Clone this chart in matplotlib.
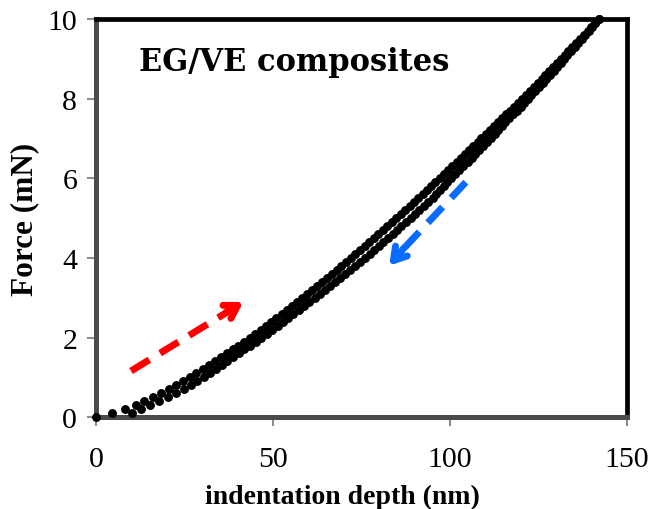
import numpy as np
import matplotlib
matplotlib.use("Agg")
import matplotlib.pyplot as plt

# loading branch (nm, mN)
load_depth = [0.0, 4.6, 8.2, 11.2, 13.7, 16.2, 18.3, 20.7, 22.7, 24.6,
              26.5, 28.3, 30.1, 31.9, 33.6, 35.3, 37.0, 38.6, 40.2, 41.8,
              43.4, 45.0, 46.5, 48.0, 49.5, 51.0, 52.5, 54.0, 55.4, 56.8,
              58.3, 59.7, 61.1, 62.5, 63.9, 65.2, 66.6, 68.0, 69.3, 70.7,
              72.0, 73.3, 74.6, 75.9, 77.2, 78.5, 79.8, 81.1, 82.3, 83.6,
              84.9, 86.1, 87.4, 88.6, 89.8, 91.1, 92.3, 93.5, 94.7, 95.9,
              97.1, 98.3, 99.5, 100.7, 101.9, 103.1, 104.3, 105.4, 106.6, 107.8,
              108.9, 110.1, 111.2, 112.4, 113.5, 114.7, 115.8, 116.9, 118.1, 119.2,
              120.3, 121.4, 122.5, 123.7, 124.8, 125.9, 127.0, 128.1, 129.2, 130.3,
              131.3, 132.4, 133.5, 134.6, 135.7, 136.8, 137.8, 138.9, 140.0, 141.0,
              142.1]
load_force = [0.0, 0.1, 0.2, 0.3, 0.4, 0.5, 0.6, 0.7, 0.8, 0.9,
              1.0, 1.1, 1.2, 1.3, 1.4, 1.5, 1.6, 1.7, 1.8, 1.9,
              2.0, 2.1, 2.2, 2.3, 2.4, 2.5, 2.6, 2.7, 2.8, 2.9,
              3.0, 3.1, 3.2, 3.3, 3.4, 3.5, 3.6, 3.7, 3.8, 3.9,
              4.0, 4.1, 4.2, 4.3, 4.4, 4.5, 4.6, 4.7, 4.8, 4.9,
              5.0, 5.1, 5.2, 5.3, 5.4, 5.5, 5.6, 5.7, 5.8, 5.9,
              6.0, 6.1, 6.2, 6.3, 6.4, 6.5, 6.6, 6.7, 6.8, 6.9,
              7.0, 7.1, 7.2, 7.3, 7.4, 7.5, 7.6, 7.7, 7.8, 7.9,
              8.0, 8.1, 8.2, 8.3, 8.4, 8.5, 8.6, 8.7, 8.8, 8.9,
              9.0, 9.1, 9.2, 9.3, 9.4, 9.5, 9.6, 9.7, 9.8, 9.9,
              10.0]

# unloading branch
unload_depth = [10.1, 12.6, 15.4, 17.8, 20.4, 22.6, 24.9, 26.8, 28.6,
                30.4, 32.1, 33.8, 35.5, 37.1, 38.7, 40.3, 41.9, 43.5, 45.1,
                46.7, 48.3, 49.8, 51.3, 52.8, 54.3, 55.8, 57.3, 58.8, 60.2,
                61.8, 63.2, 64.7, 66.1, 67.6, 68.9, 70.4, 71.8, 73.2, 74.6,
                76.0, 77.3, 78.6, 79.9, 81.2, 82.5, 83.8, 85.1, 86.3, 87.6,
                88.9, 90.1, 91.4, 92.6, 93.8, 95.1, 96.0, 97.1, 98.2, 99.3,
                100.4, 101.5, 102.7, 103.8, 105.0, 106.1, 107.2, 108.2, 109.4, 110.5,
                111.5, 112.6, 113.6, 114.7, 115.7, 116.8, 117.8, 118.9, 120.0, 121.0,
                122.0, 123.0, 124.1, 125.2, 126.2, 127.2, 128.2, 129.3, 130.3, 131.3,
                132.2, 133.2, 134.2, 135.3, 136.3, 137.3, 138.2, 139.2, 140.2, 141.1,
                142.1]
unload_force = load_force[1:]

plt.rcParams['font.family'] = ['Liberation Serif', 'DejaVu Serif']

fig = plt.figure(figsize=(6.53, 5.10), dpi=100)
ax = fig.add_axes([0.147, 0.180, 0.813, 0.781])

ax.plot(load_depth, load_force, 'o', color='black', ms=6.4, mec='none',
        zorder=5, clip_on=False)
ax.plot(unload_depth, unload_force, 'o', color='black', ms=6.4, mec='none',
        zorder=5, clip_on=False)

ax.set_xlim(0, 150)
ax.set_ylim(0, 10)
ax.set_xticks([0, 50, 100, 150])
ax.set_yticks([0, 2, 4, 6, 8, 10])
ax.tick_params(direction='out', length=6.5, width=1.5, color='#8c8c8c',
               labelsize=21.5, pad=7)
ax.tick_params(axis='x', pad=14)

for side in ['top', 'right']:
    ax.spines[side].set_linewidth(3.4)
    ax.spines[side].set_color('black')
for side in ['left', 'bottom']:
    ax.spines[side].set_linewidth(3.6)
    ax.spines[side].set_color('#4a4a4a')

ax.set_xlabel('indentation depth (nm)', fontsize=20, fontweight='bold')
ax.xaxis.set_label_coords(0.465, -0.168)
ax.set_ylabel('Force (mN)', fontsize=22.5, fontweight='bold', labelpad=6)

ax.text(0.081, 0.892, 'EG/VE composites', transform=ax.transAxes,
        fontsize=22, fontweight='bold', family='DejaVu Serif',
        va='center', ha='left')

# direction arrows
head = '->, head_length=0.9, head_width=0.55'
ax.plot([9.9, 39.5], [1.16, 2.77], color='#ff0000', lw=5, ls=(0, (3.1, 1.8)),
        solid_capstyle='butt', zorder=4)
ax.annotate('', xy=(42.3, 2.93), xytext=(36.0, 2.59),
            arrowprops=dict(arrowstyle=head, color='#ff0000', lw=5), zorder=4)
ax.plot([104.5, 85.0], [5.9, 4.05], color='#0a6cff', lw=5, ls=(0, (3.1, 1.8)),
        solid_capstyle='butt', zorder=4)
ax.annotate('', xy=(82.3, 3.75), xytext=(87.5, 4.3),
            arrowprops=dict(arrowstyle=head, color='#0a6cff', lw=5), zorder=4)

fig.savefig('out.png', dpi=100)
